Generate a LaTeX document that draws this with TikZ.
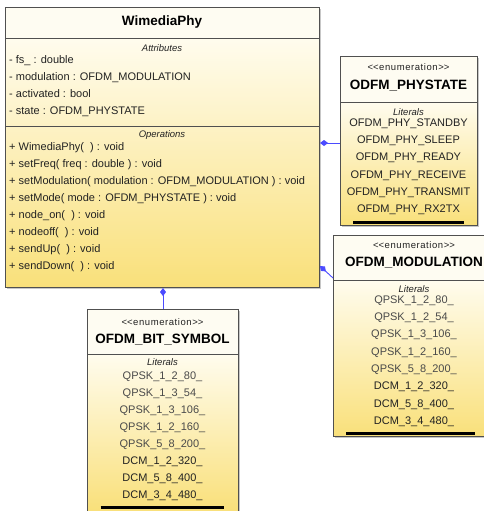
\documentclass[tikz,border=0pt]{standalone}
\usepackage{fontspec}
\setmainfont{Liberation Sans}
\usetikzlibrary{arrows.meta}
\definecolor{headfill}{HTML}{FEFCF2}
\definecolor{bodytop}{HTML}{FFFCEE}
\definecolor{bodybot}{HTML}{F9E07A}
\definecolor{framec}{HTML}{505050}
\definecolor{connblue}{HTML}{4B4BFF}
\definecolor{txt}{HTML}{222222}
\definecolor{txtlight}{HTML}{4A4A4A}
\tikzset{
  headbox/.style={rectangle, fill=headfill, draw=none, anchor=north west, inner sep=0pt},
  bodybox/.style={rectangle, top color=bodytop, bottom color=bodybot, draw=none, anchor=north west, inner sep=0pt},
  shadowbox/.style={rectangle, fill=black!22, draw=none, anchor=north west, inner sep=0pt},
  outline/.style={rectangle, draw=framec, line width=1.1pt, anchor=north west, inner sep=0pt},
  sepline/.style={draw=framec, line width=0.9pt},
  endbar/.style={draw=black, line width=2.5pt},
  titletext/.style={font=\fontsize{13.5}{16}\selectfont\bfseries, text=black, inner sep=0pt},
  itemtext/.style={font=\fontsize{11}{13}\selectfont, text=txt, anchor=west, inner sep=0pt, text height=8pt, text depth=2.5pt},
  littext/.style={font=\fontsize{11}{13}\selectfont, text=txt, inner sep=0pt, text height=8pt, text depth=2.5pt},
  litlight/.style={littext, text=txtlight},
  smalltext/.style={font=\fontsize{9.5}{11}\selectfont\itshape, text=txt, inner sep=0pt},
  stereotext/.style={font=\fontsize{9.5}{11}\selectfont\addfontfeature{LetterSpace=6}, text=txt, inner sep=0pt},
  conn/.style={draw=connblue, line width=0.9pt, {Diamond[length=8pt,width=6pt]}-}
}
\begin{document}
\begin{tikzpicture}[x=1pt,y=-1pt]
\useasboundingbox (0,0) rectangle (483,511);

% ---------- WimediaPhy ----------
\node[shadowbox, minimum width=314pt, minimum height=280pt] (mainsh) at (7,9) {};
\node[bodybox, minimum width=314pt, minimum height=249pt] (mainbody) at (5,38) {};
\node[headbox, minimum width=314pt, minimum height=31pt] (mainhead) at (5,7) {};
\node[outline, minimum width=314pt, minimum height=280pt] (main) at (5,7) {};
\draw[sepline] (mainbody.north west) -- (mainbody.north east);
\draw[sepline] ([yshift=-88pt]mainbody.north west) -- ([yshift=-88pt]mainbody.north east);

\node[titletext] (maint) at (162,22) {WimediaPhy};
\node[smalltext] (attrh) at (162,48) {Attributes};
\node[itemtext] (a1) at (9,61) {- fs\_ : double};
\node[itemtext] (a2) at (9,78) {- modulation : OFDM\_MODULATION};
\node[itemtext] (a3) at (9,95) {- activated : bool};
\node[itemtext] (a4) at (9,112) {- state : OFDM\_PHYSTATE};
\node[smalltext] (oph) at (162,135) {Operations};
\node[itemtext] (o1) at (9,148) {+ WimediaPhy(~~) : void};
\node[itemtext] (o2) at (9,165) {+ setFreq( freq : double ) : void};
\node[itemtext] (o3) at (9,182) {+ setModulation( modulation : OFDM\_MODULATION ) : void};
\node[itemtext] (o4) at (9,199) {+ setMode( mode : OFDM\_PHYSTATE ) : void};
\node[itemtext] (o5) at (9,216) {+ node\_on(~~) : void};
\node[itemtext] (o6) at (9,233) {+ nodeoff(~~) : void};
\node[itemtext] (o7) at (9,250) {+ sendUp(~~) : void};
\node[itemtext] (o8) at (9,267) {+ sendDown(~~) : void};

% ---------- ODFM_PHYSTATE ----------
\node[shadowbox, minimum width=137pt, minimum height=169pt] (physh) at (342,58) {};
\node[bodybox, minimum width=137pt, minimum height=123pt] (phybody) at (340,102) {};
\node[headbox, minimum width=137pt, minimum height=46pt] (phyhead) at (340,56) {};
\node[outline, minimum width=137pt, minimum height=169pt] (phy) at (340,56) {};
\draw[sepline] (phybody.north west) -- (phybody.north east);
\draw[endbar] (353,222.5) -- (464,222.5);
\node[stereotext] (phys) at (408.5,67) {<\kern0pt<enumeration>\kern0pt>};
\node[titletext] (phyt) at (408.5,86) {ODFM\_PHYSTATE};
\node[smalltext] (phyl) at (408.5,112) {Literals};
\node[littext] (p1) at (408.5,123.5) {OFDM\_PHY\_STANDBY};
\node[littext] (p2) at (408.5,140.8) {OFDM\_PHY\_SLEEP};
\node[littext] (p3) at (408.5,158.1) {OFDM\_PHY\_READY};
\node[littext] (p4) at (408.5,175.4) {OFDM\_PHY\_RECEIVE};
\node[littext] (p5) at (408.5,192.7) {OFDM\_PHY\_TRANSMIT};
\node[littext] (p6) at (408.5,210) {OFDM\_PHY\_RX2TX};

% ---------- OFDM_MODULATION ----------
\node[shadowbox, minimum width=162pt, minimum height=201pt] (modsh) at (335,237) {};
\node[bodybox, minimum width=162pt, minimum height=156pt] (modbody) at (333,280) {};
\node[headbox, minimum width=162pt, minimum height=45pt] (modhead) at (333,235) {};
\node[outline, minimum width=162pt, minimum height=201pt] (mod) at (333,235) {};
\draw[sepline] (modbody.north west) -- (modbody.north east);
\draw[endbar] (346,433.5) -- (475,433.5);
\node[stereotext] (mods) at (414,245) {<\kern0pt<enumeration>\kern0pt>};
\node[titletext] (modt) at (414,263) {OFDM\_MODULATION};
\node[smalltext] (modl) at (414,289) {Literals};
\node[litlight] (m1) at (414,300.5) {QPSK\_1\_2\_80\_};
\node[litlight] (m2) at (414,317.8) {QPSK\_1\_2\_54\_};
\node[litlight] (m3) at (414,335.1) {QPSK\_1\_3\_106\_};
\node[litlight] (m4) at (414,352.4) {QPSK\_1\_2\_160\_};
\node[litlight] (m5) at (414,369.7) {QPSK\_5\_8\_200\_};
\node[littext] (m6) at (414,387) {DCM\_1\_2\_320\_};
\node[littext] (m7) at (414,404.3) {DCM\_5\_8\_400\_};
\node[littext] (m8) at (414,421.6) {DCM\_3\_4\_480\_};

% ---------- OFDM_BIT_SYMBOL ----------
\node[shadowbox, minimum width=151pt, minimum height=202pt] (bitsh) at (89,311) {};
\node[bodybox, minimum width=151pt, minimum height=157pt] (bitbody) at (87,354) {};
\node[headbox, minimum width=151pt, minimum height=45pt] (bithead) at (87,309) {};
\node[outline, minimum width=151pt, minimum height=202pt] (bit) at (87,309) {};
\draw[sepline] (bitbody.north west) -- (bitbody.north east);
\draw[endbar] (100.5,507.5) -- (224,507.5);
\node[stereotext] (bits) at (162.5,322) {<\kern0pt<enumeration>\kern0pt>};
\node[titletext] (bitt) at (162.5,340) {OFDM\_BIT\_SYMBOL};
\node[smalltext] (bitl) at (162.5,362) {Literals};
\node[litlight] (b1) at (162.5,377) {QPSK\_1\_2\_80\_};
\node[litlight] (b2) at (162.5,394) {QPSK\_1\_3\_54\_};
\node[litlight] (b3) at (162.5,411) {QPSK\_1\_3\_106\_};
\node[litlight] (b4) at (162.5,428) {QPSK\_1\_2\_160\_};
\node[litlight] (b5) at (162.5,445) {QPSK\_5\_8\_200\_};
\node[littext] (b6) at (162.5,462) {DCM\_1\_2\_320\_};
\node[littext] (b7) at (162.5,479) {DCM\_5\_8\_400\_};
\node[littext] (b8) at (162.5,496) {DCM\_3\_4\_480\_};

% ---------- connectors ----------
\coordinate (s1) at (320,143);
\coordinate (s2) at (320,266);
\coordinate (s3) at (163,288);
\draw[conn] (s1) -- (phy.west |- s1);
\draw[conn] (s2) -- ([yshift=-43pt]mod.north west);
\draw[conn] (s3) -- (s3 |- bit.north);
\end{tikzpicture}
\end{document}
